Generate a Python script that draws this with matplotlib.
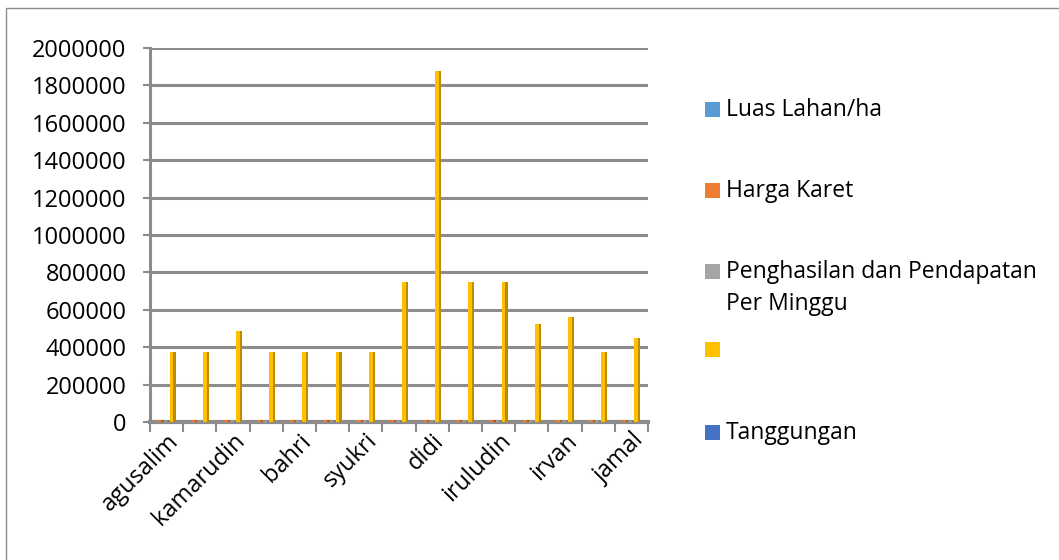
import matplotlib
matplotlib.use("Agg")
import matplotlib.pyplot as plt
from matplotlib.patches import Rectangle
import numpy as np

plt.rcParams['font.family'] = ['Open Sans', 'DejaVu Sans']

categories = ["agusalim", "", "kamarudin", "", "bahri", "", "syukri", "", "didi",
              "", "iruludin", "", "irvan", "", "jamal"]
series_names = ["Luas Lahan/ha", "Harga Karet",
                "Penghasilan dan Pendapatan\nPer Minggu", "", "Tanggungan"]
luas_lahan = [1, 1, 1, 1, 1, 1, 1, 2, 2, 2, 2, 1, 1, 1, 1]
harga_karet = [9000, 9000, 9000, 9000, 9000, 9000, 9000, 9000, 9000, 9000, 9000, 9000, 9000, 9000, 9000]
penghasilan = [3000, 3000, 3000, 3000, 3000, 3000, 3000, 3000, 3000, 3000, 3000, 3000, 3000, 3000, 3000]
unnamed = [375000, 375000, 485000, 375000, 375000, 375000, 375000, 750000, 1875000,
           750000, 750000, 525000, 560000, 375000, 450000]
tanggungan = [3, 4, 3, 2, 3, 4, 3, 5, 4, 3, 4, 3, 2, 3, 4]
y_ticks = [0, 200000, 400000, 600000, 800000, 1000000, 1200000, 1400000,
           1600000, 1800000, 2000000]

colors = ["#5B9BD5", "#ED7D31", "#A5A5A5", "#FFC000", "#4472C4"]
side_colors = ["#41719C", "#AE5A21", "#787878", "#BA8C00", "#2F5597"]

W, H = 1059, 560
fig = plt.figure(figsize=(W / 100, H / 100), dpi=100)
fig.patches.append(Rectangle((6 / W, -0.01), 1.0, 1 - 8 / H + 0.01,
                             transform=fig.transFigure, fill=False,
                             edgecolor="#8C8C8C", linewidth=1.0))

ax = fig.add_axes([150 / W, 1 - 422 / H, 498 / W, 374 / H])
x = np.arange(len(categories))
all_series = [luas_lahan, harga_karet, penghasilan, unnamed, tanggungan]
w = 0.18
offsets = [-0.36, -0.18, 0.0, 0.18, 0.36]
for vals, off, c, sc, name in zip(all_series, offsets, colors, side_colors, series_names):
    ax.bar(x + off, vals, width=w, color=c, linewidth=0, zorder=3)
    ax.bar(x + off + w * 0.32, vals, width=w * 0.36, color=sc, linewidth=0, zorder=3.1)

ax.set_xlim(-0.5, len(categories) - 0.5)
ax.set_ylim(0, 2000000)
ax.set_yticks(y_ticks)
ax.set_yticklabels([str(v) for v in y_ticks], fontsize=17, color="#000000")
ax.yaxis.grid(True, color="#8C8C8C", linewidth=2.2, zorder=0)
ax.set_axisbelow(True)

ax.set_xticks(np.arange(len(categories) + 1) - 0.5, minor=True)
ax.set_xticks(x)
ax.set_xticklabels(categories, rotation=45, ha="right", va="top",
                   rotation_mode="anchor", fontsize=17)
ax.tick_params(axis="x", which="major", length=0, pad=5)
ax.tick_params(axis="x", which="minor", length=7, width=1.5, color="#8C8C8C")
ax.tick_params(axis="y", length=5, width=1.5, color="#8C8C8C", pad=12)

for s in ["top", "right"]:
    ax.spines[s].set_visible(False)
ax.spines["left"].set_color("#8C8C8C")
ax.spines["left"].set_linewidth(2.2)
ax.spines["bottom"].set_color("#8C8C8C")
ax.spines["bottom"].set_linewidth(3)

# legend (manual placement as in the reference)
leg_y = [110, 191, 288, 350, 433]
mark_y = [110, 191, 272, 350, 433]
for name, c, yy, my in zip(series_names, colors, leg_y, mark_y):
    fig.patches.append(Rectangle((705 / W, 1 - (my + 7) / H), 15 / W, 15 / H,
                                 transform=fig.transFigure, facecolor=c,
                                 edgecolor="none"))
    if name:
        fig.text(726 / W, 1 - yy / H, name, fontsize=16.5, va="center", ha="left",
                 linespacing=1.45, color="#000000")

fig.savefig("out.png", dpi=100)
